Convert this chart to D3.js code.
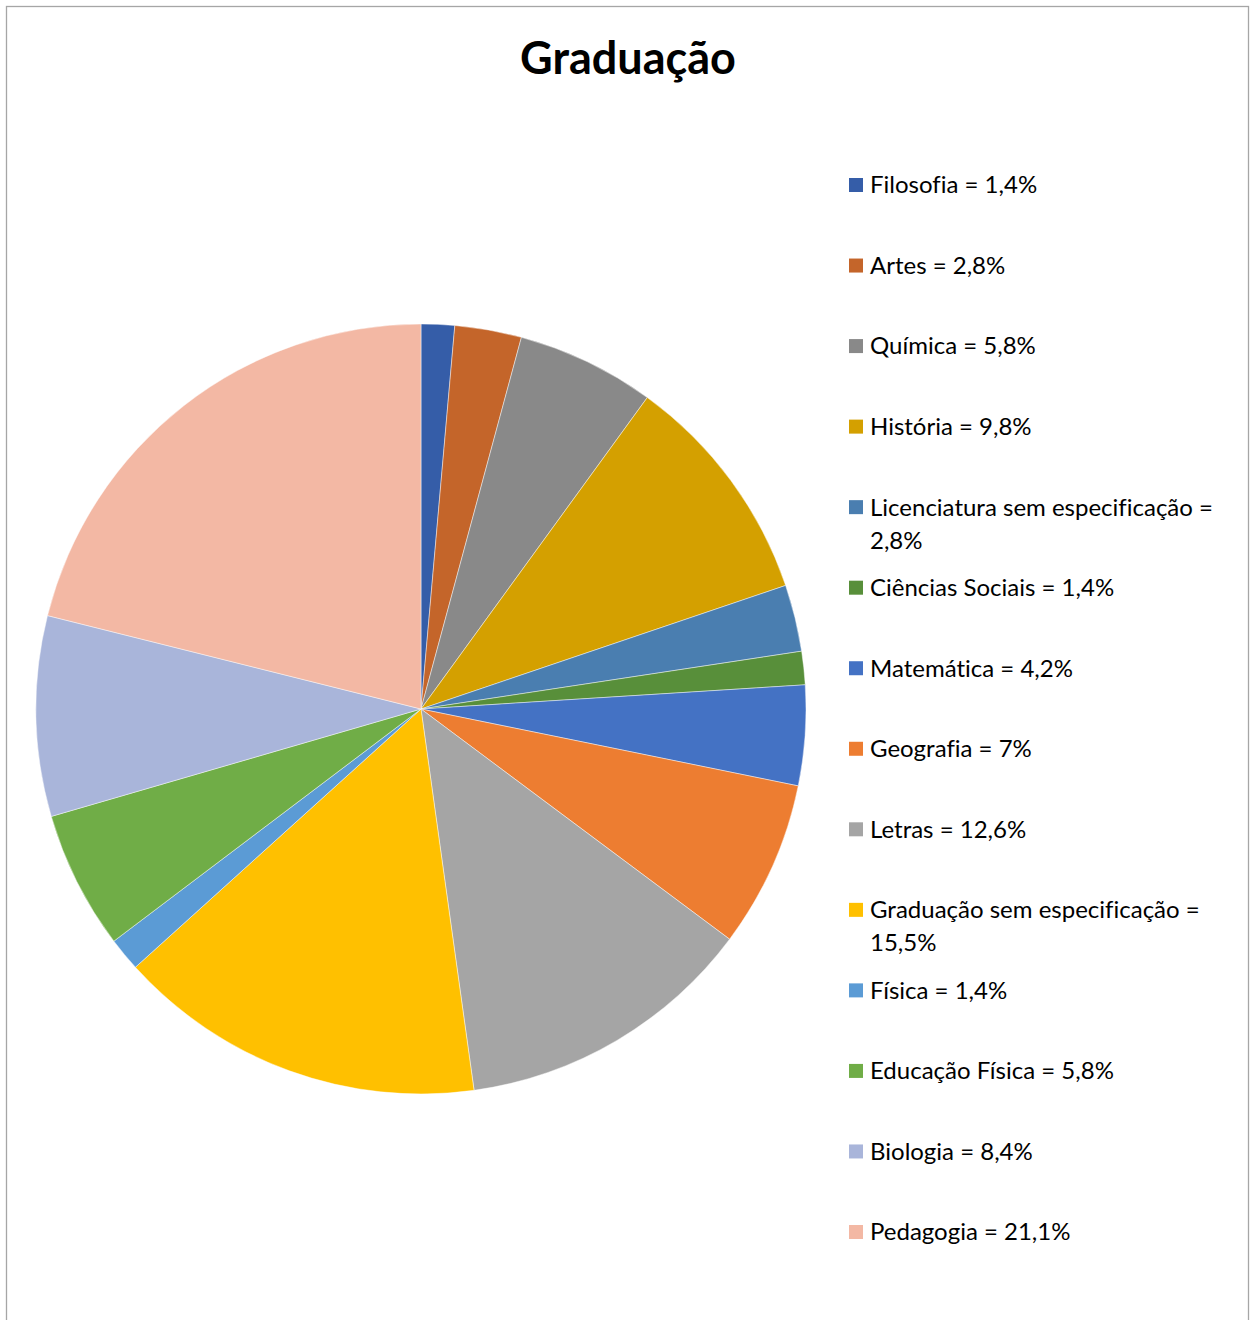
<!DOCTYPE html>
<html>
<head>
<meta charset="utf-8">
<script src="https://cdn.jsdelivr.net/npm/d3@7"></script>
<style>
  html, body { margin: 0; padding: 0; background: #fff; }
  svg { display: block; }
  text { font-variant-ligatures: none; }
</style>
</head>
<body>
<svg id="chart" width="1256" height="1320"></svg>
<script>
const title = "Graduação";
const categories = ["Filosofia", "Artes", "Química", "História", "Licenciatura sem especificação", "Ciências Sociais", "Matemática", "Geografia", "Letras", "Graduação sem especificação", "Física", "Educação Física", "Biologia", "Pedagogia"];
const values = [1.4, 2.8, 5.8, 9.8, 2.8, 1.4, 4.2, 7, 12.6, 15.5, 1.4, 5.8, 8.4, 21.1];
const valueLabels = ["1,4%", "2,8%", "5,8%", "9,8%", "2,8%", "1,4%", "4,2%", "7%", "12,6%", "15,5%", "1,4%", "5,8%", "8,4%", "21,1%"];
const legendLines = [
  ["Filosofia = 1,4%"],
  ["Artes = 2,8%"],
  ["Química = 5,8%"],
  ["História = 9,8%"],
  ["Licenciatura sem especificação =", "2,8%"],
  ["Ciências Sociais = 1,4%"],
  ["Matemática = 4,2%"],
  ["Geografia = 7%"],
  ["Letras = 12,6%"],
  ["Graduação sem especificação =", "15,5%"],
  ["Física = 1,4%"],
  ["Educação Física = 5,8%"],
  ["Biologia = 8,4%"],
  ["Pedagogia = 21,1%"]
];
const colors = ["#355DA8", "#C4652A", "#898989", "#D4A000", "#4A7EB0", "#588F3A", "#4472C4", "#ED7D31", "#A5A5A5", "#FFC000", "#5B9BD5", "#70AD47", "#A9B5DA", "#F3B8A4"];

const svg = d3.select("#chart");
const font = "Lato, 'Open Sans', sans-serif";

// border
svg.append("rect")
  .attr("x", 6.5).attr("y", 6.5)
  .attr("width", 1242).attr("height", 1330)
  .attr("fill", "#fff")
  .attr("stroke", "#a6a6a6").attr("stroke-width", 1.3);

// title
svg.append("text")
  .attr("x", 628).attr("y", 74)
  .attr("text-anchor", "middle")
  .attr("font-family", font)
  .attr("font-weight", "bold")
  .attr("font-size", 45)
  .attr("fill", "#000")
  .text(title);

// pie
const cx = 421, cy = 709, r = 385;
const data = categories.map((c, i) => ({ name: c, value: values[i], color: colors[i] }));
const pie = d3.pie().value(d => d.value).sort(null);
const arc = d3.arc().innerRadius(0).outerRadius(r);
const g = svg.append("g").attr("transform", `translate(${cx},${cy})`);
g.selectAll("path")
  .data(pie(data))
  .join("path")
  .attr("d", arc)
  .attr("fill", d => d.data.color)
  .attr("stroke", "rgba(255,255,255,0.6)")
  .attr("stroke-width", 0.75);

// legend
const y0 = 185, step = (1232 - 185) / 13;
const lg = svg.append("g");
data.forEach((d, i) => {
  const y = y0 + i * step;
  lg.append("rect")
    .attr("x", 849).attr("y", y - 7)
    .attr("width", 14).attr("height", 14)
    .attr("fill", d.color);
  legendLines[i].forEach((line, j) => {
    lg.append("text")
      .attr("x", 870).attr("y", y + j * 33)
      .attr("dy", "0.35em")
      .attr("font-family", font)
      .attr("font-size", 24)
      .attr("fill", "#000")
      .text(line);
  });
});
</script>
</body>
</html>
